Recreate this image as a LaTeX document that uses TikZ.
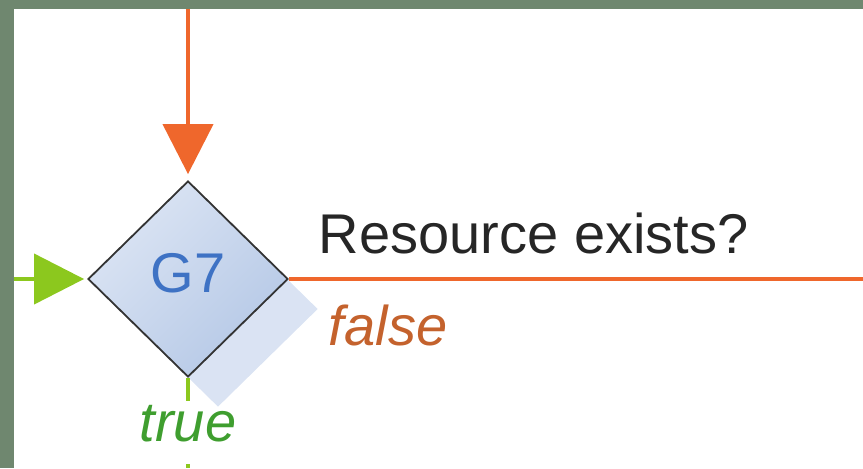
\documentclass[tikz,border=0pt]{standalone}
\usepackage{fontspec}
\setmainfont{Liberation Sans}
\usetikzlibrary{shapes.geometric,arrows.meta,shadows}
\definecolor{framegreen}{HTML}{6F876F}
\definecolor{flowred}{HTML}{EF672C}
\definecolor{flowgreen}{HTML}{8CC81E}
\definecolor{falsetext}{HTML}{C4622D}
\definecolor{truetext}{HTML}{3F9E2F}
\definecolor{gatewaytext}{HTML}{3E72C4}
\definecolor{gatewayline}{HTML}{333333}
\definecolor{gatewaylight}{HTML}{DCE5F4}
\definecolor{gatewaydark}{HTML}{B5C8E6}
\definecolor{gatewayshade}{HTML}{DAE3F3}
\definecolor{labeltext}{HTML}{262626}
\begin{document}
\begin{tikzpicture}[x=0.5pt, y=-0.5pt, >={Triangle[length=25pt,width=25pt]},
  every node/.style={font=\fontsize{28}{34}\selectfont},
  gateway/.style={diamond, draw=gatewayline, line width=0.9pt,
    minimum width=100pt, minimum height=98pt, inner sep=0pt,
    top color=gatewaylight, bottom color=gatewaydark, shading angle=45,
    text=gatewaytext,
    drop shadow={shadow xshift=15pt, shadow yshift=-15pt, fill=gatewayshade, opacity=1}},
  flowfalse/.style={draw=flowred, line width=2pt},
  flowtrue/.style={draw=flowgreen, line width=2pt}]
\useasboundingbox (0,0) rectangle (863,468);
% gateway and its ends
\node [gateway] (g7) at (188,279) {\raisebox{6pt}{G7}};
\coordinate (inlet) at (14,279);
\coordinate (topin) at (188,9);
\coordinate (falseout) at (863,279);
\coordinate (trueout) at (188,468);
% labels
\node [anchor=base west, xshift=11.5pt, yshift=13pt, text=labeltext] (question) at (g7.east) {Resource exists?};
\node [anchor=base west, xshift=16.5pt, yshift=-33pt, text=falsetext] (falselbl) at (g7.east) {\itshape false};
\node [anchor=base, yshift=-32pt, text=truetext, inner sep=2pt, text depth=9pt] (truelbl) at (g7.south) {\itshape true};
% flows
\draw [flowfalse, ->, shorten >=3pt] (topin) -- (g7.north);
\draw [flowtrue, ->, shorten >=1.5pt] (inlet) -- (g7.west);
\draw [flowfalse] (g7.east) -- (falseout);
\draw [flowtrue] (g7.south) -- (truelbl.north);
\draw [flowtrue] (truelbl.south) -- (trueout);
% frame
\fill [framegreen] (0,0) rectangle (863,9);
\fill [framegreen] (0,0) rectangle (14,468);
\end{tikzpicture}
\end{document}
